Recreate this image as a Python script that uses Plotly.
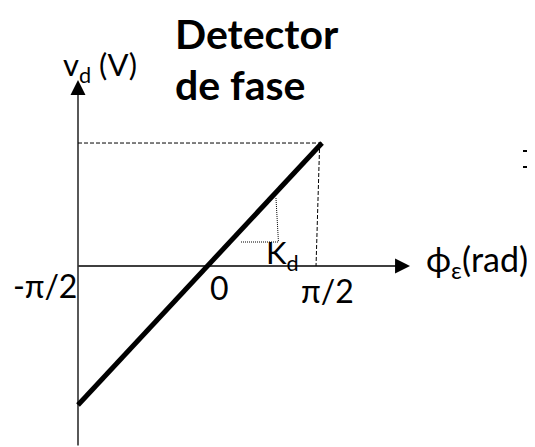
import math
import plotly.graph_objects as go

# ---- data ----
phase_rad = [-math.pi / 2, math.pi / 2]      # end points of the detector characteristic
vd_volts = [-1.13, 1.0]                      # detector output (normalised)
tick_vals = [-math.pi / 2, 0, math.pi / 2]
tick_text = ["-π/2", "0", "π/2"]
title_lines = ["Detector", "de fase"]
y_label = "v<sub>d</sub> (V)"
x_label = "ϕ<sub>ε</sub>(rad)"
slope_label = "K<sub>d</sub>"

# page is shown with the browser's 8px body margin
OFF = 8
W, H = 535 - OFF, 447 - OFF
FONT = "Lato, 'Noto Sans', sans-serif"
X_RANGE = [-2.472, 4.313]
Y_RANGE = [-1.472, 2.098]


def pxp(p):
    return (p - OFF) / W


def pyp(p):
    return 1 - (p - OFF) / H


fig = go.Figure()

# characteristic line
fig.add_trace(go.Scatter(x=phase_rad, y=vd_volts, mode="lines",
                         line=dict(color="black", width=5),
                         hoverinfo="skip", showlegend=False))

shapes = []
# dashed guides to the saturation point
shapes.append(dict(type="line", xref="x", yref="y",
                   x0=phase_rad[0], y0=vd_volts[1], x1=phase_rad[1], y1=vd_volts[1],
                   line=dict(color="black", width=1, dash="4px,2px")))
shapes.append(dict(type="line", xref="x", yref="y",
                   x0=phase_rad[1] - 0.03, y0=vd_volts[1], x1=phase_rad[1] - 0.077, y1=0,
                   line=dict(color="black", width=1, dash="4px,2px")))
# dotted slope triangle (Kd)
shapes.append(dict(type="line", xref="x", yref="y",
                   x0=0.978, y0=0.553, x1=1.01, y1=0.195,
                   line=dict(color="black", width=1, dash="1px,1px")))
shapes.append(dict(type="line", xref="x", yref="y",
                   x0=0.528, y0=0.195, x1=1.01, y1=0.195,
                   line=dict(color="black", width=1, dash="1px,1px")))
# clipped glyph at the right border
for yp in (151, 167):
    shapes.append(dict(type="line", xref="paper", yref="paper",
                       x0=pxp(523), x1=1.0, y0=pyp(yp), y1=pyp(yp),
                       line=dict(color="black", width=2)))

ann = []
# axes with arrows
ann.append(dict(x=phase_rad[0], y=1.512, ax=phase_rad[0], ay=Y_RANGE[0],
                xref="x", yref="y", axref="x", ayref="y", text="", showarrow=True,
                arrowhead=2, arrowsize=2.3, arrowwidth=1.3, arrowcolor="black"))
ann.append(dict(x=2.704, y=0, ax=-1.584, ay=0,
                xref="x", yref="y", axref="x", ayref="y", text="", showarrow=True,
                arrowhead=2, arrowsize=2.3, arrowwidth=1.3, arrowcolor="black"))

# tick labels
tick_pos = [dict(xanchor="right", xshift=1, yshift=-20),
            dict(xanchor="center", xshift=19, yshift=-22),
            dict(xanchor="center", xshift=5, yshift=-25)]
for v, t, p in zip(tick_vals, tick_text, tick_pos):
    ann.append(dict(x=v, y=0, xref="x", yref="y", text=t, showarrow=False,
                    xanchor=p["xanchor"], yanchor="middle",
                    xshift=p["xshift"], yshift=p["yshift"],
                    font=dict(family=FONT, size=32, color="black")))

# title (two lines)
for line, yc in zip(title_lines, (33.5, 85)):
    ann.append(dict(x=pxp(173), y=pyp(yc), xref="paper", yref="paper",
                    text="<b>" + line + "</b>", showarrow=False,
                    xanchor="left", yanchor="middle", align="left",
                    font=dict(family=FONT, size=41, color="black")))
# axis labels
ann.append(dict(x=pxp(61), y=pyp(67), xref="paper", yref="paper", text=y_label,
                showarrow=False, xanchor="left", yanchor="middle",
                font=dict(family=FONT, size=31, color="black")))
ann.append(dict(x=pxp(424), y=pyp(261), xref="paper", yref="paper", text=x_label,
                showarrow=False, xanchor="left", yanchor="middle",
                font=dict(family=FONT, size=34, color="black")))
ann.append(dict(x=pxp(264), y=pyp(254), xref="paper", yref="paper", text=slope_label,
                showarrow=False, xanchor="left", yanchor="middle",
                font=dict(family=FONT, size=31, color="black")))

fig.update_layout(
    width=W, height=H, margin=dict(l=0, r=0, t=0, b=0),
    paper_bgcolor="white", plot_bgcolor="white",
    xaxis=dict(range=X_RANGE, visible=False, fixedrange=True),
    yaxis=dict(range=Y_RANGE, visible=False, fixedrange=True),
    shapes=shapes, annotations=ann, showlegend=False,
)

fig.write_html("out.html")
